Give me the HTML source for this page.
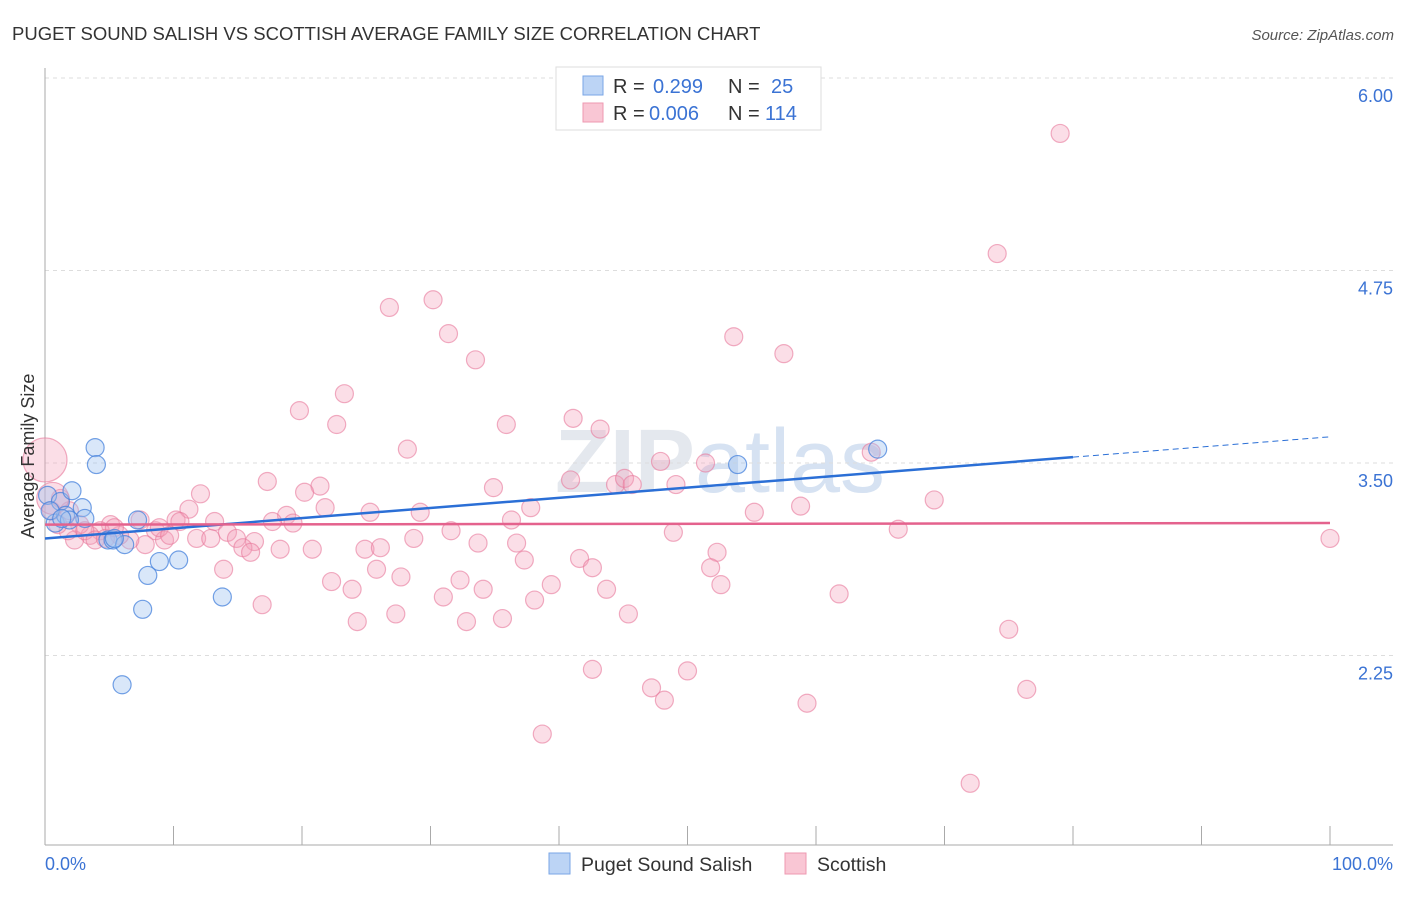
<!DOCTYPE html>
<html><head><meta charset="utf-8"><style>
body{margin:0;background:#fff;font-family:"Liberation Sans",sans-serif}
svg text{font-family:"Liberation Sans",sans-serif}
</style></head><body>
<svg id="c" width="1406" height="892">
<text x="12" y="40" font-size="18.5" fill="#333">PUGET SOUND SALISH VS SCOTTISH AVERAGE FAMILY SIZE CORRELATION CHART</text>
<text x="1394" y="40" font-size="15" fill="#555" font-style="italic" text-anchor="end">Source: ZipAtlas.com</text>
<text x="720" y="492" font-size="90" fill="#e4e8ee" font-weight="bold" text-anchor="middle" font-family="Liberation Serif">ZIP<tspan fill="#d6e2f2" font-family="Liberation Sans" font-weight="normal">atlas</tspan></text>
<g id="grid"></g><g id="pts"></g><g id="lines"></g>
<text x="34" y="456" font-size="18" fill="#333" text-anchor="middle" transform="rotate(-90 34 456)">Average Family Size</text>
<text x="45" y="870" font-size="18" fill="#3b73d4">0.0%</text>
<text x="1393" y="870" font-size="18" fill="#3b73d4" text-anchor="end">100.0%</text>
<g>
<rect x="556" y="67" width="265" height="63" fill="#fff" stroke="#ddd"/>
<rect x="583" y="76" width="20" height="19" fill="#bcd4f5" stroke="#7aa6e6"/>
<rect x="583" y="103" width="20" height="19" fill="#f9c6d4" stroke="#ee98b1"/>
<text x="613" y="93" font-size="20" fill="#333">R = <tspan x="653" fill="#3b73d4">0.299</tspan><tspan x="728">N = </tspan><tspan x="771" fill="#3b73d4">25</tspan></text>
<text x="613" y="120" font-size="20" fill="#333">R = <tspan x="649" fill="#3b73d4">0.006</tspan><tspan x="728">N = </tspan><tspan x="765" fill="#3b73d4">114</tspan></text>
</g>
<g>
<rect x="549" y="853" width="21" height="21" fill="#bcd4f5" stroke="#7aa6e6"/>
<text x="581" y="871" font-size="19.5" fill="#333">Puget Sound Salish</text>
<rect x="785" y="853" width="21" height="21" fill="#f9c6d4" stroke="#ee98b1"/>
<text x="817" y="871" font-size="19.5" fill="#333">Scottish</text>
</g>
</svg>
<script>
const yTicks=[6.00,4.75,3.50,2.25];
const blueX=[0.2,0.8,1.2,1.6,2.1,2.9,3.1,3.9,4.0,4.9,5.3,6.2,7.2,8.0,7.6,8.9,10.4,6.0,13.8,53.9,64.8,0.4,1.9,5.4,1.3];
const blueY=[3.29,3.11,3.25,3.16,3.32,3.21,3.14,3.60,3.49,3.00,3.00,2.97,3.13,2.77,2.55,2.86,2.87,2.06,2.63,3.49,3.59,3.19,3.13,3.01,3.14];
const pinkX=[79.0,74.1,30.2,26.8,31.4,33.5,53.6,57.5,23.3,19.8,22.7,35.9,41.1,43.2,28.2,47.9,51.4,64.3,40.9,44.4,45.1,45.7,49.1,34.9,17.3,21.4,20.2,69.2,58.8,55.2,37.8,21.8,25.3,29.2,12.1,11.2,18.8,10.2,10.5,13.2,17.7,19.3,36.3,31.6,14.2,11.8,12.9,14.9,16.3,28.7,48.9,66.4,33.7,36.7,24.9,26.1,20.8,18.3,15.4,16.0,52.3,41.6,37.3,42.6,51.8,25.8,13.9,27.7,32.3,22.3,39.4,23.9,34.1,43.7,52.6,31.0,38.1,61.8,16.9,45.4,27.3,32.8,35.6,24.3,75.0,42.6,50.0,47.2,76.4,48.2,59.3,38.7,72.0,100,8.6,9.3,7.8,6.6,5.8,5.1,4.3,3.5,2.7,2.3,1.8,1.0,0.5,1.2,1.9,3.1,3.9,4.7,5.4,7.4,8.9,9.7,0,0.6];
const pinkY=[5.64,4.86,4.56,4.51,4.34,4.17,4.32,4.21,3.95,3.84,3.75,3.75,3.79,3.72,3.59,3.51,3.50,3.57,3.39,3.36,3.40,3.36,3.36,3.34,3.38,3.35,3.31,3.26,3.22,3.18,3.21,3.21,3.18,3.18,3.30,3.20,3.16,3.13,3.12,3.12,3.12,3.11,3.13,3.06,3.05,3.01,3.01,3.01,2.99,3.01,3.05,3.07,2.98,2.98,2.94,2.95,2.94,2.94,2.95,2.92,2.92,2.88,2.87,2.82,2.82,2.81,2.81,2.76,2.74,2.73,2.71,2.68,2.68,2.68,2.71,2.63,2.61,2.65,2.58,2.52,2.52,2.47,2.49,2.47,2.42,2.16,2.15,2.04,2.03,1.96,1.94,1.74,1.42,3.01,3.06,3.00,2.97,3.00,3.03,3.10,3.06,3.03,3.10,3.00,3.06,3.10,3.19,3.27,3.19,3.06,3.00,3.01,3.08,3.13,3.08,3.03,3.52,3.27];
const pinkBig=[116,117];
const blueTrend=[3.01,3.67];
const pinkTrend=[3.10,3.11];
const X=v=>45+v*12.85, Y=v=>78+(6-v)*154;
const NS='http://www.w3.org/2000/svg';
function mk(t,a,p){const e=document.createElementNS(NS,t);for(const k in a)e.setAttribute(k,a[k]);p.appendChild(e);return e;}
const g=document.getElementById('grid');
yTicks.forEach(t=>{
 const l=mk('line',{x1:45,x2:1393,y1:Y(t),y2:Y(t),stroke:'#ddd','stroke-dasharray':'4,4'},g);
 
 
 const tx=mk('text',{x:1393,y:Y(t)+24,'font-size':18,fill:'#3b73d4','text-anchor':'end'},g);
 tx.textContent=t.toFixed(2);
 
 
});
const ax=mk('line',{x1:45,x2:45,y1:68,y2:845,stroke:'#aaa'},g);


const bx=mk('line',{x1:45,x2:1393,y1:845,y2:845,stroke:'#aaa'},g);


for(let i=0;i<=10;i++){const t=mk('line',{x1:X(i*10),x2:X(i*10),y1:826,y2:845,stroke:'#aaa'},g);
 
 }
const p=document.getElementById('pts');
pinkX.forEach((x,i)=>{const c=mk('circle',{cx:X(x),cy:Y(pinkY[i]),r:pinkBig.includes(i)?(i==116?22:16):9,fill:'rgba(244,160,185,0.35)',stroke:'rgba(232,120,155,0.6)','stroke-width':1.2},p);
 
 });
blueX.forEach((x,i)=>{const c=mk('circle',{cx:X(x),cy:Y(blueY[i]),r:9,fill:'rgba(160,195,240,0.4)',stroke:'rgba(70,130,220,0.75)','stroke-width':1.2},p);
 
 });
const L=document.getElementById('lines');
const by=v=>blueTrend[0]+(blueTrend[1]-blueTrend[0])*v/100;
const b1=mk('line',{x1:X(0),y1:Y(by(0)),x2:X(80),y2:Y(by(80)),stroke:'#2b6fd6','stroke-width':2.5},L);


const b2=mk('line',{x1:X(80),y1:Y(by(80)),x2:X(100),y2:Y(by(100)),stroke:'#2b6fd6','stroke-width':1,'stroke-dasharray':'6,4'},L);


const p1=mk('line',{x1:X(0),y1:Y(pinkTrend[0]),x2:X(100),y2:Y(pinkTrend[1]),stroke:'#e4628d','stroke-width':2.5},L);


</script>
</body></html>
